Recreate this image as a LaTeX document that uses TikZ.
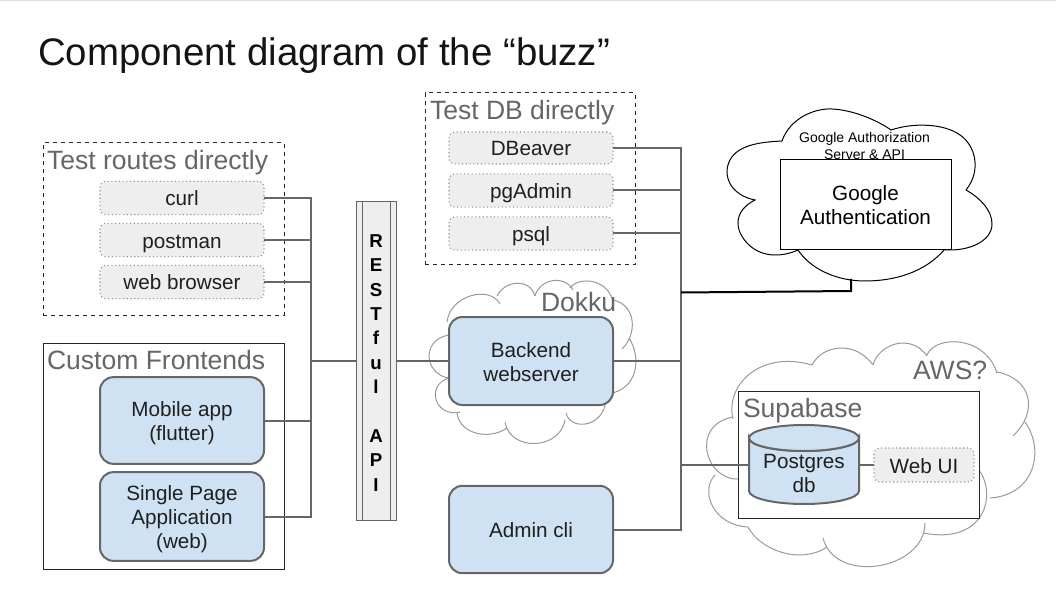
\documentclass[tikz,border=0pt]{standalone}
\usepackage{fontspec}
\setmainfont{Liberation Sans}
\definecolor{ln}{HTML}{666666}
\definecolor{blu}{HTML}{CFE2F3}
\definecolor{gry}{HTML}{EEEEEE}
\definecolor{cl}{HTML}{999999}
\newcommand\lblstrut{\rule[-3.5pt]{0pt}{19pt}}
\newcommand\mlfirst{\rule{0pt}{15.5pt}}
\newcommand\mllast{\rule[-3.5pt]{0pt}{1pt}}
\begin{document}
\begin{tikzpicture}[x=0.75pt,y=-0.75pt,
  every node/.style={inner sep=0pt,outer sep=0pt},
  lbl/.style={align=center,font=\fontsize{15.5}{18}\selectfont,text=black!88},
  onel/.style={execute at begin node=\lblstrut,execute at end node=\lblstrut},
  ptitle/.style={anchor=base west,font=\fontsize{19.9}{23}\selectfont,text=ln},
  gbox/.style={lbl,onel,draw=black!45,dotted,line width=0.8pt,fill=gry,rounded corners=4.5pt,minimum width=123pt},
  bbox/.style={lbl,draw=ln,line width=1.5pt,fill=blu,rounded corners=10pt,minimum width=123pt},
  dashpanel/.style={draw=black!85,dashed,line width=0.75pt},
  solidpanel/.style={draw=black!85,line width=0.75pt,fill=white},
  cloudline/.style={draw=cl,line width=0.75pt},
  conn/.style={draw=ln,line width=1.5pt},
  busmid/.style={draw=ln,line width=1.9pt},
  busthick/.style={draw=ln,line width=2.2pt},
]
\useasboundingbox (0,0) rectangle (1056,595);
\fill[black!13] (0,0) rectangle (1056,1);
\node[anchor=base west,font=\fontsize{28.8}{34}\selectfont,text=black!92] (title) at (38,66) {Component diagram of the “buzz”};

% Google cloud
\draw[draw=black,line width=0.75pt]
 (782,141) .. controls (790,118) and (815,108) .. (832,109)
 .. controls (855,110) and (880,122) .. (891,130)
 .. controls (915,122) and (945,124) .. (960,135)
 .. controls (975,145) and (982,170) .. (966,190)
 .. controls (980,198) and (992,210) .. (992,224)
 .. controls (992,240) and (972,250) .. (950,250)
 -- (944,250)
 .. controls (925,272) and (895,281) .. (865,281)
 .. controls (835,281) and (810,268) .. (798,250)
 .. controls (780,258) and (760,257) .. (747,243)
 .. controls (733,228) and (735,210) .. (755,200)
 .. controls (730,195) and (722,175) .. (730,160)
 .. controls (738,145) and (760,142) .. (782,141) -- cycle;
\node[align=center,font=\fontsize{10.5}{12.6}\selectfont] (gtext) at (864.5,146) {Google Authorization\\Server \& API};
\node[lbl,draw=black,line width=0.75pt,fill=white,minimum width=128.25pt,minimum height=67.5pt,text=black] (gauth) at (865.5,205) {\mlfirst Google\\Authentication\mllast};

% Dokku cloud
\draw[cloudline]
 (447,322) .. controls (450,295) and (490,285) .. (500,304)
 (497,296) .. controls (505,280) and (530,278) .. (535,296)
 (535,296) .. controls (540,278) and (565,275) .. (573,290)
 (570,288) .. controls (580,275) and (610,280) .. (613,303)
 (613,300) .. controls (637,305) and (637,335) .. (622,349)
 (629,338) .. controls (640,355) and (640,385) .. (613,393)
 (605,405) .. controls (600,428) and (570,430) .. (566,413)
 (565,420) .. controls (560,450) and (510,452) .. (505,422)
 (507,428) .. controls (490,440) and (460,435) .. (457,413)
 (460,412) .. controls (435,418) and (425,385) .. (449,378)
 (449,378) .. controls (425,375) and (420,340) .. (449,335);
\node[ptitle] (dokku) at (541,311) {Dokku};

% AWS cloud
\draw[cloudline]
 (812,365) .. controls (822,345) and (855,340) .. (873,365)
 (873,365) .. controls (878,345) and (910,332) .. (927,356)
 (927,355) .. controls (935,335) and (985,335) .. (997,373)
 (997,372) .. controls (1030,378) and (1040,410) .. (1013,436)
 (1025,422) .. controls (1045,450) and (1035,495) .. (990,498)
 (979,470) .. controls (997,495) and (985,545) .. (923,533)
 (925,523) .. controls (925,570) and (835,585) .. (823,538)
 (827,547) .. controls (800,565) and (760,550) .. (748,527)
 (748,527) .. controls (712,525) and (700,490) .. (715,475)
 (738,479) .. controls (705,480) and (690,425) .. (733,417)
 (733,419) .. controls (725,385) and (760,350) .. (812,365);
\node[ptitle] (aws) at (913,379) {AWS?};

% Panels
\node[dashpanel,minimum width=180.75pt,minimum height=129pt] (routes) at (163.5,229) {};
\node[solidpanel,minimum width=180.75pt,minimum height=169.5pt] (front) at (163.5,456) {};
\node[dashpanel,minimum width=157.5pt,minimum height=129pt] (dbpanel) at (530,179) {};
\node[solidpanel,minimum width=180.75pt,minimum height=95.25pt] (supa) at (858.5,454.5) {};
\node[ptitle] (t1) at (47,170) {Test routes directly};
\node[ptitle] (t2) at (47,369) {Custom Frontends};
\node[ptitle] (t3) at (430,120) {Test DB directly};
\node[ptitle] (t4) at (743,417) {Supabase};

% Gray boxes
\node[gbox,minimum height=25pt] (curl) at (182,198) {curl};
\node[gbox,minimum height=25pt] (postman) at (182,240) {postman};
\node[gbox,minimum height=25pt] (browser) at (182,282) {web browser};
\node[gbox,minimum height=24pt] (dbeaver) at (531,148) {DBeaver};
\node[gbox,minimum height=25pt] (pgadmin) at (531,190.5) {pgAdmin};
\node[gbox,minimum height=25pt] (psql) at (531,233.5) {psql};
\node[gbox,minimum width=75pt,minimum height=25.5pt] (webui) at (924,465) {Web UI};

% Blue boxes
\node[bbox,minimum height=65pt] (mobile) at (182,420.5) {\mlfirst Mobile app\\(flutter)\mllast};
\node[bbox,minimum height=66.5pt] (spa) at (182,516.5) {\mlfirst Single Page\\Application\\(web)\mllast};
\node[bbox,minimum height=66pt] (backend) at (531,361) {\mlfirst Backend\\webserver\mllast};
\node[bbox,onel,minimum height=65.5pt] (admin) at (531,529.5) {Admin cli};

% RESTful column
\node[draw=ln,line width=0.75pt,fill=gry,minimum width=30pt,minimum height=238.5pt,align=center,
      font=\fontsize{14}{18.3}\selectfont\bfseries] (rest) at (376,361)
      {\rule{0pt}{12.5pt}R\\E\\S\\T\\f\\u\\l\\~\\A\\P\\I};
\draw[ln,line width=0.75pt] (362,202) -- (362,520) (390,202) -- (390,520);

% Postgres cylinder
\node[minimum width=82.5pt,minimum height=58pt] (pg) at (804,465) {};
\draw[draw=ln,line width=1.5pt,fill=blu]
  (749,438) arc[x radius=55,y radius=-13,start angle=180,end angle=360]
  -- (859,491) arc[x radius=55,y radius=13,start angle=0,end angle=180] -- cycle;
\draw[draw=ln,line width=1.5pt,fill=blu] (804,438) ellipse[x radius=55,y radius=13];
\node[lbl] (pgt) at (804,472) {\mlfirst Postgres\\db\mllast};

% Bus coordinates
\coordinate (bl) at (311,361);
\coordinate (bltop) at (311,198);
\coordinate (blbot) at (311,440);
\coordinate (br) at (681,465);
\coordinate (brtop) at (681,148);
\coordinate (bg) at (681,292.5);
\coordinate (gb) at (851,279);
\coordinate (gc) at (851,291);

% Connectors
\draw[conn] (curl.east) -| (bl);
\draw[conn] (postman.east) -| (bl);
\draw[conn] (browser.east) -| (bl);
\draw[conn] (mobile.east) -| (bl);
\draw[conn] (spa.east) -| (bl);
\draw[busmid] (bltop) -- (blbot);
\draw[busthick] (bl) -- (rest.west);
\draw[conn] (rest.east) -- (backend.west);
\draw[conn] (dbeaver.east) -| (br);
\draw[conn] (pgadmin.east) -| (br);
\draw[conn] (psql.east) -| (br);
\draw[conn] (backend.east) -| (br);
\draw[conn] (admin.east) -| (br);
\draw[busthick] (brtop) -- (br) -- (pg.west);
\draw[conn] (pg.east) -- (webui.west);
\draw[black,line width=1.5pt] (gb) -- (gc) -- (bg);
\end{tikzpicture}
\end{document}
